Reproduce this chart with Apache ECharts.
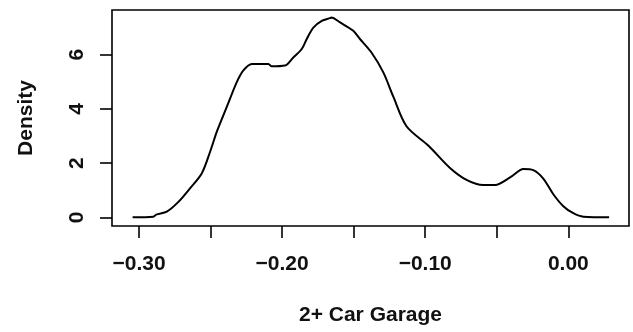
<!DOCTYPE html>
<html>
<head>
<meta charset="utf-8">
<script src="https://cdn.jsdelivr.net/npm/echarts@6/dist/echarts.min.js"></script>
<style>
html,body{margin:0;padding:0;background:#fff;}
#chart{width:633px;height:332px;}
</style>
</head>
<body>
<div id="chart"></div>
<script>
// Density curve
const xValues = [-0.3045, -0.2900, -0.2880, -0.2806, -0.2725, -0.2644, -0.2562, -0.2504, -0.2457, -0.2411, -0.2364, -0.2317, -0.2271, -0.2212, -0.2096, -0.2073, -0.1980, -0.1922, -0.1863, -0.1828, -0.1782, -0.1723, -0.1665, -0.1656, -0.1595, -0.1505, -0.1456, -0.1377, -0.1293, -0.1223, -0.1131, -0.0977, -0.0827, -0.0708, -0.0594, -0.0512, -0.0407, -0.0314, -0.0245, -0.0175, -0.0105, -0.0035, 0.0035, 0.0105, 0.0285];
const density = [0, 0.02, 0.10, 0.21, 0.57, 1.07, 1.62, 2.41, 3.15, 3.76, 4.38, 4.99, 5.42, 5.66, 5.66, 5.57, 5.60, 5.90, 6.21, 6.58, 7.00, 7.25, 7.35, 7.37, 7.19, 6.89, 6.58, 6.09, 5.35, 4.45, 3.36, 2.64, 1.82, 1.37, 1.19, 1.19, 1.47, 1.78, 1.74, 1.43, 0.85, 0.41, 0.15, 0.02, 0];
const xTicks = [-0.30, -0.25, -0.20, -0.15, -0.10, -0.05, 0.00];
const xLabels = [-0.30, -0.20, -0.10, 0.00];
const yTicks = [0, 2, 4, 6];
const xTitle = '2+ Car Garage';
const yTitle = 'Density';

const FONT = 'Liberation Sans';
const TXT = '#111';
const W = 'bold';
const FS = 21;
const fmtX = v => (v < 0 ? '\u2212' : '') + Math.abs(v).toFixed(2);

const chart = echarts.init(document.getElementById('chart'), null, {renderer: 'canvas'});
chart.setOption({
  animation: false,
  backgroundColor: '#fff',
  grid: {left: 112, right: 4, top: 10, bottom: 106, show: true, borderColor: '#000', borderWidth: 1.6, containLabel: false},
  xAxis: {
    type: 'value', min: -0.3189, max: 0.0424,
    name: xTitle, nameLocation: 'middle', nameGap: 79,
    nameTextStyle: {fontFamily: FONT, fontSize: FS, fontWeight: W, color: TXT},
    axisLine: {show: false, onZero: false},
    splitLine: {show: false},
    axisTick: {show: true, length: 12, inside: false, customValues: xTicks, lineStyle: {color: '#000', width: 1.6}},
    axisLabel: {customValues: xLabels, formatter: fmtX, margin: 28, fontFamily: FONT, fontSize: FS, fontWeight: W, color: TXT}
  },
  yAxis: {
    type: 'value', min: -0.321, max: 7.65,
    name: yTitle, nameLocation: 'middle', nameGap: 75, nameRotate: 90,
    nameTextStyle: {fontFamily: FONT, fontSize: FS, fontWeight: W, color: TXT},
    axisLine: {show: false, onZero: false},
    splitLine: {show: false},
    axisTick: {show: true, length: 12, inside: false, customValues: yTicks, lineStyle: {color: '#000', width: 1.6}},
    axisLabel: {customValues: yTicks, rotate: 90, margin: 24, fontFamily: FONT, fontSize: FS, fontWeight: W, color: TXT}
  },
  series: [{
    type: 'line',
    data: xValues.map((x, i) => [x, density[i]]),
    showSymbol: false,
    smooth: 0.3,
    lineStyle: {color: '#000', width: 2}
  }]
});
</script>
</body>
</html>
